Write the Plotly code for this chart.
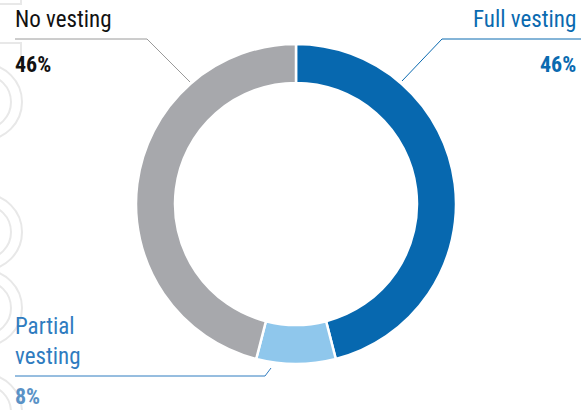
import plotly.graph_objects as go

# ---- data ----
categories = ["Full vesting", "Partial vesting", "No vesting"]
shares = [46, 8, 46]
label_texts = ["Full vesting", "Partial<br>vesting", "No vesting"]
pct_texts = ["46%", "8%", "46%"]

# ---- styles ----
slice_colors = ["#0768AF", "#8FC7EC", "#A7A8AC"]
W, H = 581, 410
FONT = "Liberation Sans Narrow, Roboto Condensed, Lato, sans-serif"


def px(x):
    return x / W


def py(y):
    return 1 - y / H


cx, cy, R = 296, 204, 160

fig = go.Figure(go.Pie(
    labels=categories,
    values=shares,
    sort=False,
    direction="clockwise",
    rotation=0,
    hole=121 / 160,
    marker=dict(colors=slice_colors, line=dict(color="white", width=2.5)),
    textinfo="none",
    hoverinfo="label+percent",
    showlegend=False,
    domain=dict(x=[px(cx - R), px(cx + R)], y=[py(cy + R), py(cy - R)]),
))

shapes = []
# faint decorative rings at left edge
for ry in [102, 232, 308, 412]:
    for rr in [38, 27]:
        shapes.append(dict(type="circle", xref="paper", yref="paper",
                           x0=px(-16 - rr), x1=px(-16 + rr),
                           y0=py(ry + rr), y1=py(ry - rr),
                           line=dict(color="#E8E8E8", width=2), layer="below"))
# faint rectangles top-left
shapes.append(dict(type="path", xref="paper", yref="paper",
                   path=f"M {px(0)},{py(4)} L {px(21)},{py(4)} L {px(21)},{py(0)}",
                   line=dict(color="#E8E8E8", width=2), layer="below"))
shapes.append(dict(type="path", xref="paper", yref="paper",
                   path=f"M {px(0)},{py(43)} L {px(21)},{py(43)} L {px(21)},{py(56)}",
                   line=dict(color="#E8E8E8", width=2), layer="below"))

# leader lines
shapes.append(dict(type="path", xref="paper", yref="paper",
                   path=f"M {px(15)},{py(39)} L {px(147)},{py(39)} L {px(190)},{py(82)}",
                   line=dict(color="#9A9A9A", width=1)))
shapes.append(dict(type="path", xref="paper", yref="paper",
                   path=f"M {px(581)},{py(39)} L {px(442)},{py(39)} L {px(402)},{py(81)}",
                   line=dict(color="#0A6AB0", width=1)))
shapes.append(dict(type="path", xref="paper", yref="paper",
                   path=f"M {px(15)},{py(376)} L {px(265)},{py(376)} L {px(271)},{py(368)}",
                   line=dict(color="#2F7CC0", width=1)))

label_colors = ["#0A6AB0", "#2F7CC0", "#111111"]
pct_colors = ["#0A6AB0", "#5A92C6", "#111111"]
label_pos = [(578, 19, "right"), (13, 341, "left"), (13, 19, "left")]
pct_pos = [(578, 64, "right"), (13, 396, "left"), (13, 64, "left")]

annotations = []
for i in range(3):
    x, y, anc = label_pos[i]
    annotations.append(dict(xref="paper", yref="paper", x=px(x), y=py(y),
                            xanchor=anc, yanchor="middle", showarrow=False,
                            align=anc, text=label_texts[i],
                            font=dict(family=FONT, size=23, color=label_colors[i])))
    x, y, anc = pct_pos[i]
    annotations.append(dict(xref="paper", yref="paper", x=px(x), y=py(y),
                            xanchor=anc, yanchor="middle", showarrow=False,
                            text=f"<b>{pct_texts[i]}</b>",
                            font=dict(family=FONT, size=22, color=pct_colors[i])))

fig.update_layout(
    width=W, height=H,
    margin=dict(l=0, r=0, t=0, b=0),
    paper_bgcolor="white", plot_bgcolor="white",
    shapes=shapes, annotations=annotations,
)

fig.write_html("out.html", config={"displayModeBar": False},
               post_script="document.body.style.margin='0';document.body.style.overflow='hidden';")
